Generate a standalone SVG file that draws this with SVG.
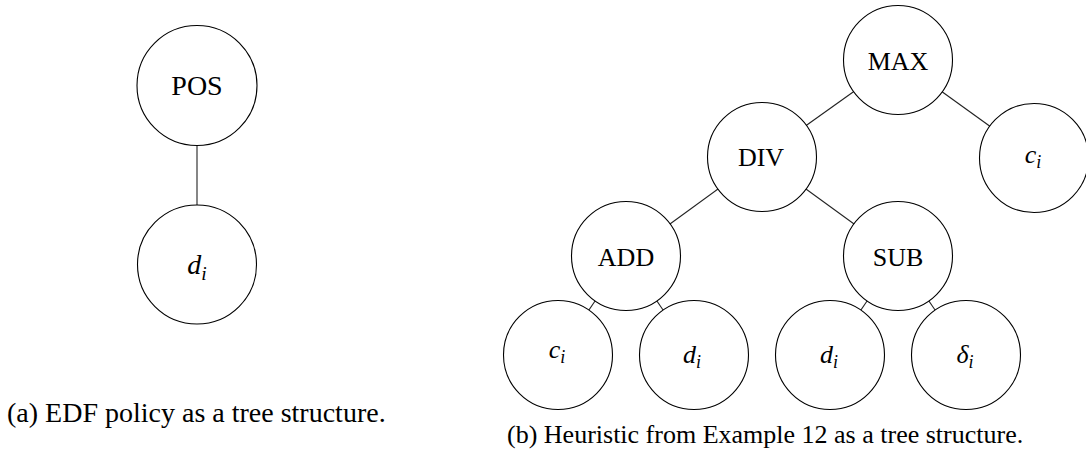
<svg xmlns="http://www.w3.org/2000/svg" width="1086" height="461" viewBox="0 0 1086 461">
  <style>
    .node { fill: #fff; stroke: #000; stroke-width: 1.1; }
    .edge { stroke: #222; stroke-width: 1.1; fill: none; }
    text { font-family: 'Liberation Serif', 'Times New Roman', 'DejaVu Serif', serif; fill: #000; }
    .lbl { text-anchor: middle; }
    .a { font-size: 28px; }
    .b { font-size: 26px; }
    .m { font-style: italic; }
  </style>
  <rect width="1086" height="461" fill="#fff"/>
  <g id="connectors">
    <line class="edge" x1="197" y1="85.5" x2="197" y2="264.5"/>
    <line class="edge" x1="898" y1="60" x2="762" y2="157"/>
    <line class="edge" x1="898" y1="60" x2="1034" y2="158"/>
    <line class="edge" x1="762" y1="157" x2="626" y2="256"/>
    <line class="edge" x1="762" y1="157" x2="898" y2="256"/>
    <line class="edge" x1="626" y1="256" x2="558" y2="355"/>
    <line class="edge" x1="626" y1="256" x2="694" y2="355"/>
    <line class="edge" x1="898" y1="256" x2="830" y2="355"/>
    <line class="edge" x1="898" y1="256" x2="966" y2="355"/>
  </g>
  <g id="pos">
    <circle class="node" cx="197" cy="85.5" r="60"/>
    <text class="lbl a" x="197" y="95" font-family="Liberation Serif, serif">POS</text>
  </g>
  <g id="di-left">
    <circle class="node" cx="197" cy="264.5" r="59.5"/>
    <text class="lbl a m" x="197" y="274" font-family="Liberation Serif, serif">d<tspan font-size="19.5" dy="5.5">i</tspan></text>
  </g>
  <g id="max">
    <circle class="node" cx="898" cy="60" r="54.5"/>
    <text class="lbl b" x="898" y="70" font-family="Liberation Serif, serif">MAX</text>
  </g>
  <g id="div">
    <circle class="node" cx="762" cy="157" r="54.5"/>
    <text class="lbl b" x="761" y="166" font-family="Liberation Serif, serif">DIV</text>
  </g>
  <g id="ci-right">
    <circle class="node" cx="1034" cy="158" r="54.5"/>
    <text class="lbl b m" x="1033" y="163" font-family="Liberation Serif, serif">c<tspan font-size="18" dy="5">i</tspan></text>
  </g>
  <g id="add">
    <circle class="node" cx="626" cy="256" r="54.5"/>
    <text class="lbl b" x="626" y="266" font-family="Liberation Serif, serif">ADD</text>
  </g>
  <g id="sub">
    <circle class="node" cx="898" cy="256" r="54.5"/>
    <text class="lbl b" x="898" y="266" font-family="Liberation Serif, serif">SUB</text>
  </g>
  <g id="ci-bottom">
    <circle class="node" cx="558" cy="355" r="54.5"/>
    <text class="lbl b m" x="557" y="358" font-family="Liberation Serif, serif">c<tspan font-size="18" dy="5">i</tspan></text>
  </g>
  <g id="di-add">
    <circle class="node" cx="694" cy="355" r="54.5"/>
    <text class="lbl b m" x="692" y="362.5" font-family="Liberation Serif, serif">d<tspan font-size="18" dy="5">i</tspan></text>
  </g>
  <g id="di-sub">
    <circle class="node" cx="830" cy="355" r="54.5"/>
    <text class="lbl b m" x="829" y="362.5" font-family="Liberation Serif, serif">d<tspan font-size="18" dy="5">i</tspan></text>
  </g>
  <g id="delta">
    <circle class="node" cx="966" cy="355" r="54.5"/>
    <text class="lbl b m" x="965" y="362.5" font-family="Liberation Serif, serif">δ<tspan font-size="18" dy="5">i</tspan></text>
  </g>
  <text x="7" y="421.5" font-size="28" font-family="Liberation Serif, serif">(a) EDF policy as a tree structure.</text>
  <text x="507" y="443" font-size="26" font-family="Liberation Serif, serif">(b) Heuristic from Example 12 as a tree structure.</text>
</svg>
